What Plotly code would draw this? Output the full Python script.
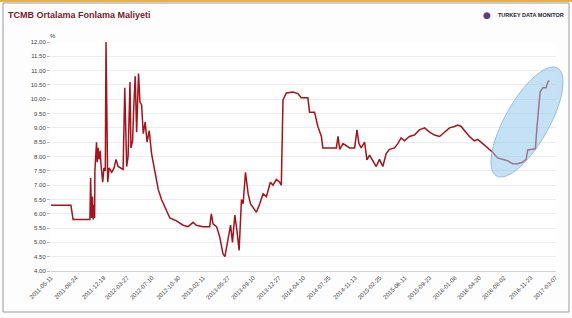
import numpy as np
import plotly.graph_objects as go

title_text = "TCMB Ortalama Fonlama Maliyeti"
brand_text = "TURKEY DATA MONITOR"
unit_text = "%"

dates = [
    "2011-05-11", "2011-08-03", "2011-08-12", "2011-10-22", "2011-10-25", "2011-10-29",
    "2011-11-02", "2011-11-05", "2011-11-08", "2011-11-11", "2011-11-12", "2011-11-19",
    "2011-11-22", "2011-11-26", "2011-11-30", "2011-12-05", "2011-12-07", "2011-12-15",
    "2011-12-20", "2011-12-26", "2011-12-29", "2012-01-05", "2012-01-11", "2012-01-22",
    "2012-02-01", "2012-02-09", "2012-02-18", "2012-03-01", "2012-03-10", "2012-03-17",
    "2012-03-25", "2012-03-31", "2012-04-08", "2012-04-12", "2012-04-19", "2012-04-24",
    "2012-04-30", "2012-05-06", "2012-05-14", "2012-05-20", "2012-05-27", "2012-06-03",
    "2012-06-11", "2012-06-19", "2012-06-28", "2012-07-08", "2012-07-15", "2012-07-22",
    "2012-07-29", "2012-08-05", "2012-08-19", "2012-09-02", "2012-09-23", "2012-10-21",
    "2012-11-18", "2012-12-09", "2012-12-30", "2013-01-13", "2013-02-10", "2013-03-10",
    "2013-03-17", "2013-03-24", "2013-04-08", "2013-04-21", "2013-05-05", "2013-05-13",
    "2013-05-26", "2013-06-06", "2013-06-14", "2013-06-24", "2013-07-03", "2013-07-12",
    "2013-07-22", "2013-07-29", "2013-08-08", "2013-08-19", "2013-08-29", "2013-09-09",
    "2013-09-23", "2013-10-07", "2013-10-21", "2013-11-04", "2013-11-21", "2013-12-02",
    "2013-12-16", "2013-12-30", "2014-01-06", "2014-01-13", "2014-01-27", "2014-02-24",
    "2014-03-17", "2014-03-31", "2014-04-28", "2014-05-05", "2014-05-26", "2014-06-09",
    "2014-06-24", "2014-06-30", "2014-08-26", "2014-09-02", "2014-09-09", "2014-09-23",
    "2014-10-21", "2014-11-11", "2014-11-21", "2014-11-29", "2014-12-09", "2014-12-23",
    "2015-01-02", "2015-01-13", "2015-01-27", "2015-02-10", "2015-02-24", "2015-03-10",
    "2015-03-24", "2015-04-07", "2015-04-28", "2015-05-12", "2015-05-26", "2015-06-09",
    "2015-06-30", "2015-07-21", "2015-08-11", "2015-09-02", "2015-09-23", "2015-10-14",
    "2015-11-04", "2015-11-25", "2015-12-16", "2016-01-06", "2016-01-20", "2016-02-03",
    "2016-02-24", "2016-03-09", "2016-03-30", "2016-04-13", "2016-05-04", "2016-05-25",
    "2016-06-15", "2016-07-06", "2016-07-27", "2016-08-17", "2016-09-07", "2016-09-28",
    "2016-10-19", "2016-11-03", "2016-11-10", "2016-12-01", "2016-12-12", "2016-12-19",
    "2016-12-26", "2017-01-01", "2017-01-12", "2017-01-26", "2017-02-02", "2017-02-09",
]
rates = [
    6.30, 6.30, 5.80, 5.80, 7.25, 5.85,
    6.60, 5.80, 6.30, 5.85, 7.50, 8.50,
    7.80, 8.30, 7.90, 8.20, 7.80, 7.10,
    7.60, 7.50, 12.00, 7.10, 7.60, 7.45,
    7.60, 7.90, 7.65, 7.60, 7.55, 10.40,
    7.65, 8.00, 10.60, 8.30, 8.55, 9.75,
    10.80, 8.85, 10.90, 9.90, 9.80, 8.80,
    9.20, 8.50, 8.90, 8.10, 7.75, 7.50,
    7.05, 6.85, 6.50, 6.25, 5.85, 5.75,
    5.60, 5.55, 5.70, 5.60, 5.55, 5.55,
    6.00, 5.65, 5.55, 5.20, 4.60, 4.50,
    5.10, 5.60, 5.00, 5.95, 5.40, 4.72,
    6.50, 6.35, 7.45, 6.70, 6.35, 6.20,
    6.05, 6.35, 6.70, 6.60, 7.10, 7.00,
    7.20, 7.10, 7.00, 9.98, 10.22, 10.25,
    10.20, 10.05, 10.05, 9.55, 9.55, 9.05,
    8.70, 8.30, 8.30, 8.70, 8.25, 8.45,
    8.30, 8.30, 8.93, 8.45, 8.30, 8.50,
    7.88, 8.05, 7.85, 7.65, 7.90, 7.65,
    8.10, 8.25, 8.30, 8.45, 8.65, 8.55,
    8.70, 8.75, 8.93, 9.00, 8.85, 8.75,
    8.70, 8.85, 9.00, 9.05, 9.10, 9.05,
    8.85, 8.70, 8.55, 8.60, 8.45, 8.30,
    8.15, 7.95, 7.90, 7.85, 7.75, 7.75,
    7.80, 7.90, 8.23, 8.25, 8.27, 9.05,
    9.87, 10.25, 10.40, 10.40, 10.60, 10.65,
]

tick_dates = [
    "2011-05-11", "2011-08-24", "2011-12-19", "2012-03-27", "2012-07-10", "2012-10-30",
    "2013-02-11", "2013-05-27", "2013-09-10", "2013-12-27", "2014-04-10", "2014-07-25",
    "2014-11-13", "2015-02-25", "2015-06-11", "2015-09-23", "2016-01-08", "2016-04-20",
    "2016-08-02", "2016-11-23", "2017-03-07",
]
y_ticks = [4 + 0.5 * i for i in range(17)]

W, H = 572, 318
L, R, T, B = 51, 16, 42, 47
pw, ph = W - L - R, H - T - B


def px(x):
    return (x - L) / pw


def py(y):
    return (H - B - y) / ph


fig = go.Figure()
fig.add_trace(go.Scatter(
    x=dates, y=rates, mode="lines",
    line=dict(color="#a3141c", width=1.5),
    hoverinfo="skip", showlegend=False,
))

# highlight ellipse (pixel-space, rotated)
cx, cy, a, b, ang = 527, 122, 62, 22, np.deg2rad(-60.5)
t = np.linspace(0, 2 * np.pi, 80)
ex = cx + a * np.cos(t) * np.cos(ang) - b * np.sin(t) * np.sin(ang)
ey = cy + a * np.cos(t) * np.sin(ang) + b * np.sin(t) * np.cos(ang)
path = "M " + " L ".join(f"{px(u):.4f},{py(v):.4f}" for u, v in zip(ex, ey)) + " Z"

shapes = [
    dict(type="path", xref="paper", yref="paper", path=path,
         fillcolor="rgba(150,200,238,0.55)", line=dict(color="rgba(120,170,220,0.7)", width=1),
         layer="above"),
    # outer frame
    dict(type="rect", xref="paper", yref="paper", x0=px(3), x1=px(569), y0=py(312), y1=py(3),
         line=dict(color="#9a9a9a", width=1), fillcolor="rgba(0,0,0,0)", layer="below"),
    # top orange strip
    dict(type="rect", xref="paper", yref="paper", x0=px(0), x1=px(572), y0=py(2), y1=py(0),
         line=dict(width=0), fillcolor="#e8b04a", layer="below"),
]

annotations = [
    dict(text=f"<b>{title_text}</b>", xref="paper", yref="paper", x=px(6), y=py(15),
         xanchor="left", yanchor="middle", showarrow=False,
         font=dict(family="Liberation Sans, Arial", size=9, color="#7a1a2a")),
    dict(text=f"<b>{brand_text}</b>", xref="paper", yref="paper", x=px(566), y=py(15),
         xanchor="right", yanchor="middle", showarrow=False,
         font=dict(family="Liberation Sans, Arial", size=5.5, color="#1a1a40")),
    dict(text="●", xref="paper", yref="paper", x=px(487), y=py(15),
         xanchor="center", yanchor="middle", showarrow=False,
         font=dict(family="DejaVu Sans", size=9, color="#5a3a8a")),
    dict(text=unit_text, xref="paper", yref="paper", x=px(53), y=py(36),
         xanchor="center", yanchor="middle", showarrow=False,
         font=dict(family="Liberation Sans, Arial", size=6, color="#333")),
]

fig.update_layout(
    width=W, height=H,
    margin=dict(l=L, r=R, t=T, b=B, pad=0),
    paper_bgcolor="#fdfdfd", plot_bgcolor="#ffffff",
    shapes=shapes, annotations=annotations,
    showlegend=False,
)
fig.update_xaxes(
    type="date", range=["2011-05-11", "2017-03-09"],
    tickmode="array", tickvals=tick_dates, ticktext=tick_dates,
    tickangle=-45, tickfont=dict(family="Liberation Sans, Arial", size=6, color="#444"),
    showgrid=False, showline=True, linecolor="#d0d0d0", linewidth=1,
    ticks="", zeroline=False, automargin=False,
)
fig.update_yaxes(
    range=[4, 12], tickmode="array", tickvals=y_ticks,
    ticktext=[f"{v:.2f}" for v in y_ticks],
    tickfont=dict(family="Liberation Sans, Arial", size=6, color="#444"),
    showgrid=True, gridcolor="#ececec", gridwidth=1,
    showline=False, ticks="outside", ticklen=3, tickcolor="#bbbbbb",
    zeroline=False, automargin=False,
)

fig.write_html("out.html", config={"displayModeBar": False},
               post_script="document.body.style.margin='0';")
